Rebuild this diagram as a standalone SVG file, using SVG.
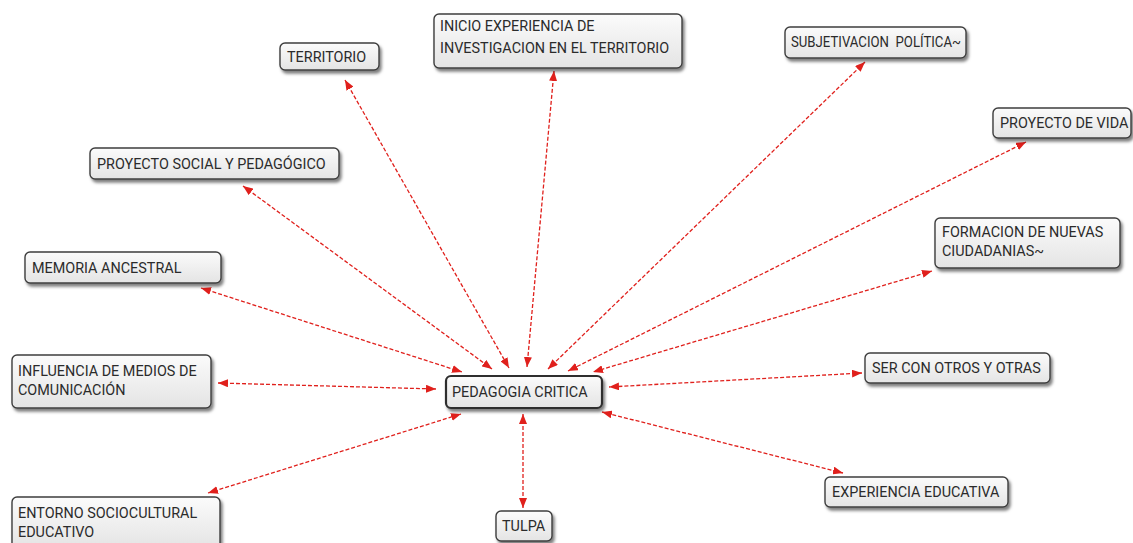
<svg xmlns="http://www.w3.org/2000/svg" width="1133" height="543" viewBox="0 0 1133 543">
<defs>
<linearGradient id="g" x1="0" y1="0" x2="0" y2="1">
<stop offset="0" stop-color="#fbfbfb"/>
<stop offset="1" stop-color="#e4e4e4"/>
</linearGradient>
<filter id="sh" x="-10%" y="-20%" width="130%" height="160%">
<feDropShadow dx="2" dy="3" stdDeviation="1.6" flood-color="#000" flood-opacity="0.5"/>
</filter>
<marker id="ah" viewBox="0 0 10 8" refX="10" refY="4" markerWidth="10" markerHeight="8" markerUnits="userSpaceOnUse" orient="auto-start-reverse">
<path d="M0,0 L10,4 L0,8 z" fill="#e0201c"/>
</marker>
</defs>
<style>
.box{fill:url(#g);stroke:#3e3e3e;stroke-width:1.4;filter:url(#sh)}
.main{stroke-width:2.2;stroke:#2e2e2e}
text{font-family:Roboto,"Liberation Sans",Arial,sans-serif;font-size:14.4px;fill:#2b2b2b;white-space:pre}
.c line{stroke:#e0201c;stroke-width:1.3;stroke-dasharray:4 2;marker-start:url(#ah);marker-end:url(#ah);fill:none}
</style>
<rect width="1133" height="543" fill="#ffffff"/>
<g class="c" id="connectors">
<line x1="201" y1="288" x2="462" y2="372"/>
<line x1="243" y1="186" x2="492" y2="369"/>
<line x1="345" y1="80" x2="509" y2="368"/>
<line x1="554" y1="71" x2="527" y2="367"/>
<line x1="865" y1="62" x2="548" y2="369"/>
<line x1="1026" y1="142" x2="568" y2="371"/>
<line x1="932" y1="271" x2="593" y2="372"/>
<line x1="862" y1="373" x2="609" y2="387"/>
<line x1="843" y1="473" x2="602" y2="412"/>
<line x1="523" y1="508" x2="523" y2="414"/>
<line x1="208" y1="493" x2="461" y2="414"/>
<line x1="218" y1="383" x2="436" y2="389"/>
</g>
<g id="territorio"><rect class="box" x="280" y="43" width="99" height="27" rx="5"/><text x="287" y="62">TERRITORIO</text></g>
<g id="inicio"><rect class="box" x="434" y="14" width="248" height="54" rx="5"/><text x="440" y="31">INICIO EXPERIENCIA DE</text><text x="440" y="53">INVESTIGACION EN EL TERRITORIO</text></g>
<g id="subjetivacion"><rect class="box" x="785" y="27" width="181" height="31" rx="5"/><text x="791" y="47" textLength="170" lengthAdjust="spacingAndGlyphs">SUBJETIVACION  POLÍTICA~</text></g>
<g id="proyecto-vida"><rect class="box" x="993" y="108" width="138" height="30" rx="5"/><text x="1000" y="128">PROYECTO DE VIDA</text></g>
<g id="formacion"><rect class="box" x="935" y="218" width="185" height="50" rx="5"/><text x="942" y="237">FORMACION DE NUEVAS</text><text x="942" y="256">CIUDADANIAS~</text></g>
<g id="proyecto-social"><rect class="box" x="90" y="148" width="249" height="31" rx="5"/><text x="97" y="169">PROYECTO SOCIAL Y PEDAGÓGICO</text></g>
<g id="memoria"><rect class="box" x="25" y="252" width="196" height="31" rx="5"/><text x="32" y="273">MEMORIA ANCESTRAL</text></g>
<g id="influencia"><rect class="box" x="12" y="355" width="199" height="53" rx="5"/><text x="18" y="376">INFLUENCIA DE MEDIOS DE</text><text x="18" y="395">COMUNICACIÓN</text></g>
<g id="entorno"><rect class="box" x="12" y="497" width="208" height="52" rx="5"/><text x="18" y="518">ENTORNO SOCIOCULTURAL</text><text x="18" y="537">EDUCATIVO</text></g>
<g id="pedagogia"><rect class="box main" x="446" y="376" width="156" height="32" rx="5"/><text x="452" y="397">PEDAGOGIA CRITICA</text></g>
<g id="ser-con-otros"><rect class="box" x="865" y="353" width="185" height="30" rx="5"/><text x="872" y="373">SER CON OTROS Y OTRAS</text></g>
<g id="experiencia"><rect class="box" x="825" y="477" width="183" height="30" rx="5"/><text x="832" y="497">EXPERIENCIA EDUCATIVA</text></g>
<g id="tulpa"><rect class="box" x="496" y="511" width="56" height="30" rx="5"/><text x="502" y="531">TULPA</text></g>
</svg>
